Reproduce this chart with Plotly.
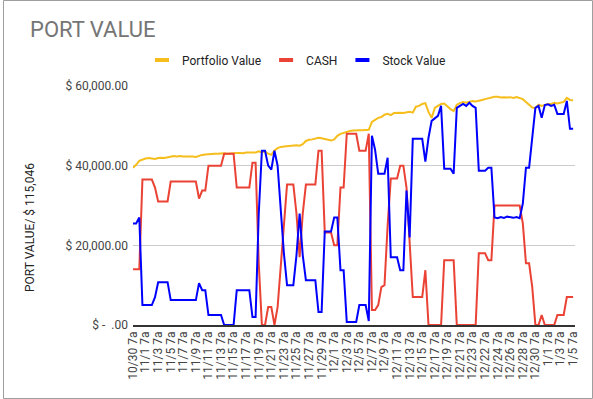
import plotly.graph_objects as go

# ---- data (one point per half day) ----
portfolio_value = [
    39500, 40200, 41200, 41600, 41800, 41900, 41800, 41700, 41900, 42000,
    41900, 42100, 42300, 42400, 42300, 42400, 42300, 42300, 42400, 42300,
    42200, 42500, 42700, 42800, 42900, 42900, 43000, 43000, 43100, 43100,
    43000, 43100, 43100, 43200, 43200, 43100, 43300, 43300, 43400, 43300,
    43600, 43300, 43600, 43000, 42700, 43800, 44400, 44700, 44800, 44900,
    45000, 45000, 45100, 45000, 45400, 46200, 46500, 46600, 46800, 47000,
    46900, 46700, 46400, 46300, 46600, 47500, 48000, 48300, 48600, 48700,
    48800, 48900, 48900, 48900, 48900, 49000, 51000, 51500, 52000, 52200,
    52800, 53000, 52700, 53200, 53300, 53300, 53200, 53300, 53500, 53300,
    54800, 55000, 55500, 55700, 53500, 52000, 54500, 55000, 55500, 55600,
    54800, 54200, 53700, 55300, 55700, 56000, 55800, 56000, 56200, 56100,
    56400, 56500, 56700, 56900, 57200, 57300, 57300, 57100, 57200, 57100,
    57200, 57000, 57200, 57000, 56700, 56000, 55300, 54600, 54500, 55300,
    55000, 55200, 55500, 55500, 55800, 55600, 55900, 56000, 57000, 56500,
    56400,
]

cash = [
    14000, 14000, 14000, 36500, 36500, 36500, 36500, 34500, 31000, 31000,
    31000, 31000, 36000, 36000, 36000, 36000, 36000, 36000, 36000, 36000,
    36000, 31750, 33750, 33750, 40000, 40000, 40000, 40000, 40000, 43000,
    43000, 43000, 43000, 34500, 34500, 34500, 34500, 34500, 40750, 40750,
    15500, 0, 0, 4500, 4500, 0, 4500, 15000, 27000, 35250,
    35250, 35250, 28000, 17000, 28000, 35250, 35250, 35250, 35250, 43750,
    43750, 23250, 23250, 23250, 20000, 20000, 34500, 34500, 48000, 48000,
    48000, 48000, 43750, 43750, 43750, 48000, 3750, 3750, 5000, 9500,
    10000, 25000, 36750, 36750, 36750, 40000, 40000, 34500, 20500, 7000,
    7000, 7000, 7000, 13750, 0, 0, 0, 0, 0, 16250,
    16250, 16250, 16250, 0, 0, 0, 0, 0, 0, 0,
    18000, 18000, 18000, 16250, 16250, 30000, 30000, 30000, 30000, 30000,
    30000, 30000, 30000, 30000, 25500, 15500, 15500, 9500, 0, 0,
    2500, 0, 0, 0, 0, 2500, 2500, 2500, 7000, 7000,
    7000,
]

stock_value = [
    25500, 25500, 27000, 5000, 5000, 5000, 5000, 7000, 10750, 10750,
    10750, 10750, 6250, 6250, 6250, 6250, 6250, 6250, 6250, 6250,
    6250, 10500, 8750, 8750, 2500, 2500, 2500, 2500, 2500, 0,
    0, 0, 0, 8750, 8750, 8750, 8750, 8750, 2000, 2000,
    28000, 43750, 43750, 40000, 39000, 43750, 40000, 29000, 18000, 10000,
    10000, 10000, 17500, 28000, 17500, 11250, 11250, 11250, 11250, 3250,
    3250, 23500, 23500, 23500, 27000, 27000, 13750, 13750, 750, 750,
    750, 750, 5000, 5000, 5000, 1000, 47500, 44000, 38000, 38000,
    38000, 42000, 17000, 17000, 17000, 13750, 13750, 33750, 22000, 46750,
    46750, 46750, 46750, 41000, 47000, 51250, 52000, 52500, 55000, 39250,
    39250, 39250, 38000, 54500, 55000, 55500, 55000, 55800, 55000, 54500,
    38750, 38750, 38750, 39500, 39500, 27000, 26800, 27100, 26900, 27200,
    27000, 26900, 27100, 26800, 30500, 39500, 39500, 47000, 54500, 55000,
    52000, 55200, 55400, 55000, 55300, 53000, 53000, 53000, 56250, 49250,
    49250,
]

x_tick_labels = [
    "10/30 7a", "11/1 7a", "11/3 7a", "11/5 7a", "11/7 7a", "11/9 7a",
    "11/11 7a", "11/13 7a", "11/15 7a", "11/17 7a", "11/19 7a", "11/21 7a",
    "11/23 7a", "11/25 7a", "11/27 7a", "11/29 7a", "12/1 7a", "12/3 7a",
    "12/5 7a", "12/7 7a", "12/9 7a", "12/11 7a", "12/13 7a", "12/15 7a",
    "12/17 7a", "12/19 7a", "12/21 7a", "12/23 7a", "12/22 7a", "12/24 7a",
    "12/26 7a", "12/28 7a", "12/30 7a", "1/1 7a", "1/3 7a", "1/5 7a",
]

y_tick_values = [0, 20000, 40000, 60000]
y_tick_labels = ["$ -\u00a0\u00a0.00", "$ 20,000.00", "$ 40,000.00", "$ 60,000.00"]

series_names = ["Portfolio Value", "CASH", "Stock Value"]
series_colors = ["#f6be1c", "#ea4335", "#0000ff"]

# ---- figure ----
x = list(range(len(cash)))
tick_step = 4
tick_positions = [i * tick_step for i in range(len(x_tick_labels))]

W, H = 593, 399
L, R, T, B = 133, 18, 86, 74
plot_w = W - L - R
plot_h = H - T - B

fig = go.Figure()
for name, vals, col in zip(series_names, [portfolio_value, cash, stock_value], series_colors):
    fig.add_trace(go.Scatter(
        x=x, y=vals, mode="lines", name=name,
        line=dict(color=col, width=2), showlegend=False, legendgroup=name,
    ))
for name, col in zip(series_names, series_colors):
    fig.add_trace(go.Scatter(
        x=[None], y=[None], mode="markers", name=name, legendgroup=name,
        marker=dict(symbol="line-ew", size=10, color=col,
                    line=dict(color=col, width=4)),
    ))

font_family = "Roboto, Arial, sans-serif"

fig.update_layout(
    width=W, height=H,
    margin=dict(l=L, r=R, t=T, b=B, autoexpand=False),
    paper_bgcolor="white", plot_bgcolor="white",
    font=dict(family=font_family, size=12, color="#444444"),
    title=dict(text="PORT VALUE", xref="container", yref="container",
               x=30 / W, xanchor="left", y=1 - 29.5 / H, yanchor="middle",
               font=dict(size=22, color="#757575", family=font_family)),
    legend=dict(orientation="h", xref="container", yref="container",
                x=0.5, xanchor="center", y=1 - 60 / H, yanchor="middle",
                font=dict(size=12, color="#222222"), itemwidth=30,
                bgcolor="rgba(0,0,0,0)"),
    xaxis=dict(range=[0, 140.6], tickmode="array", tickvals=tick_positions,
               ticktext=x_tick_labels, tickangle=-90, showgrid=False,
               zeroline=False, showline=True, linecolor="#333333", linewidth=1.5,
               ticks="", tickfont=dict(size=12, color="#444444"), automargin=False),
    yaxis=dict(range=[0, 60000], tickmode="array", tickvals=y_tick_values,
               ticktext=y_tick_labels, showgrid=True, gridcolor="#cccccc",
               gridwidth=1, zeroline=False, showline=False, ticks="",
               tickfont=dict(size=12, color="#444444"), automargin=False,
               ticklabelstandoff=4),
    annotations=[dict(text="PORT VALUE/ $ 115,046", textangle=-90,
                      xref="paper", yref="paper",
                      x=(30 - L) / plot_w, y=(H - B - 228) / plot_h,
                      xanchor="center", yanchor="middle", showarrow=False,
                      font=dict(size=12, color="#222222"))],
    shapes=[dict(type="rect", xref="paper", yref="paper",
                 x0=(3.5 - L) / plot_w, x1=(592.5 - L) / plot_w,
                 y0=(H - B - 398.5) / plot_h, y1=(H - B - 0.5) / plot_h,
                 line=dict(color="#9e9e9e", width=1), layer="below")],
)

fig.write_html("out.html",
               config={"displayModeBar": False},
               post_script="document.body.style.margin='0';document.body.style.overflow='hidden';")
